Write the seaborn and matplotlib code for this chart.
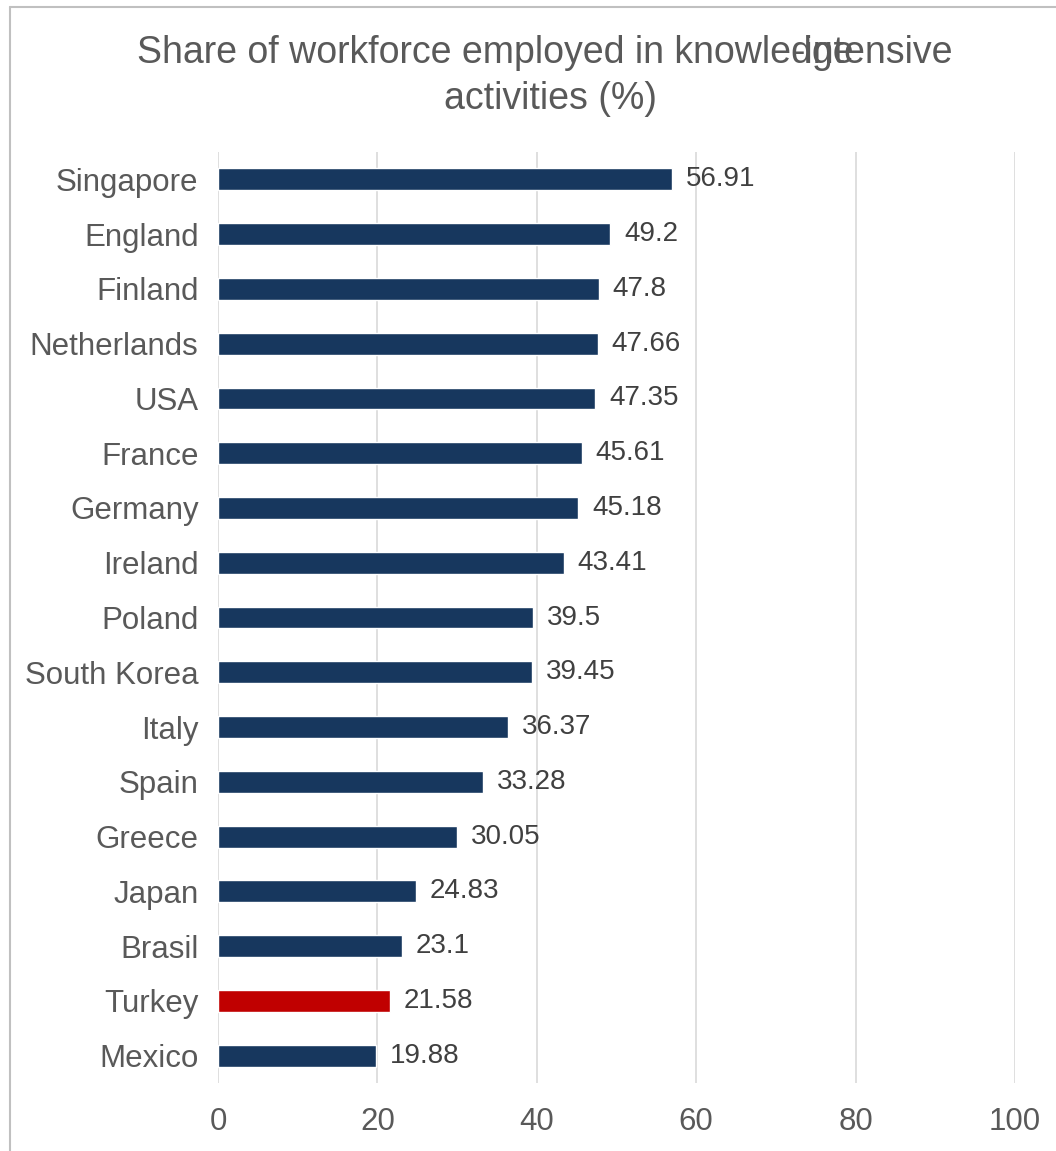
import matplotlib
matplotlib.use("Agg")
import matplotlib.pyplot as plt
from matplotlib.lines import Line2D
import seaborn as sns
import pandas as pd

countries = ["Singapore", "England", "Finland", "Netherlands", "USA", "France",
             "Germany", "Ireland", "Poland", "South Korea", "Italy", "Spain",
             "Greece", "Japan", "Brasil", "Turkey", "Mexico"]
shares = [56.91, 49.2, 47.8, 47.66, 47.35, 45.61, 45.18, 43.41, 39.5, 39.45,
          36.37, 33.28, 30.05, 24.83, 23.1, 21.58, 19.88]
highlight = "Turkey"
x_ticks = [0, 20, 40, 60, 80, 100]

NAVY = "#17375E"
RED = "#C00000"
TEXT = "#595959"
GRID = "#D9D9D9"

sns.set_theme(style="white")
plt.rcParams["font.family"] = ["Liberation Sans", "DejaVu Sans"]

df = pd.DataFrame({"country": countries, "share": shares})
palette = {c: (RED if c == highlight else NAVY) for c in countries}

fig = plt.figure(figsize=(10.56, 11.51), dpi=100)
ax = fig.add_axes([0.2064, 0.0591, 0.9612 - 0.2064, 0.8679 - 0.0591])

sns.barplot(data=df, x="share", y="country", hue="country", palette=palette,
            legend=False, width=0.40, saturation=1, ax=ax, zorder=3)

for cont, v in zip(ax.containers, shares):
    ax.bar_label(cont, labels=[f"{v:g}"], padding=10, fontsize=20,
                 color="#404040")

ax.set_xlim(0, 100)
ax.set_ylim(len(countries) - 0.5, -0.5)
ax.set_xticks(x_ticks)
ax.set_xticklabels([str(t) for t in x_ticks])
ax.xaxis.grid(True, color=GRID, linewidth=1.2, zorder=0)
ax.yaxis.grid(False)
for s in ax.spines.values():
    s.set_visible(False)
ax.tick_params(axis="x", length=0, pad=17, labelsize=22.5, labelcolor=TEXT)
ax.tick_params(axis="y", length=0, pad=14, labelsize=22.5, labelcolor=TEXT)
for lbl in ax.get_yticklabels():
    lbl.set_y(lbl.get_position()[1])
ax.set_xlabel("")
ax.set_ylabel("")

# title, drawn as two pieces on its first line
W, H = 1056, 1151
fig.text(137 / W, 1 - 63 / H, "Share of workforce employed in knowledge",
         ha="left", va="baseline", fontsize=27, color=TEXT)
fig.text(953 / W, 1 - 63 / H, "-intensive",
         ha="right", va="baseline", fontsize=27, color=TEXT)
fig.text(550 / W, 1 - 109 / H, "activities (%)",
         ha="center", va="baseline", fontsize=27, color=TEXT)

# chart-area frame edges
fig.add_artist(Line2D([9.5 / W, 9.5 / W], [0, 1 - 7 / H], color="#C0C0C0",
                      linewidth=1.5, transform=fig.transFigure))
fig.add_artist(Line2D([9.5 / W, 1], [1 - 7 / H, 1 - 7 / H], color="#C0C0C0",
                      linewidth=1.5, transform=fig.transFigure))

fig.savefig("out.png", dpi=100)
